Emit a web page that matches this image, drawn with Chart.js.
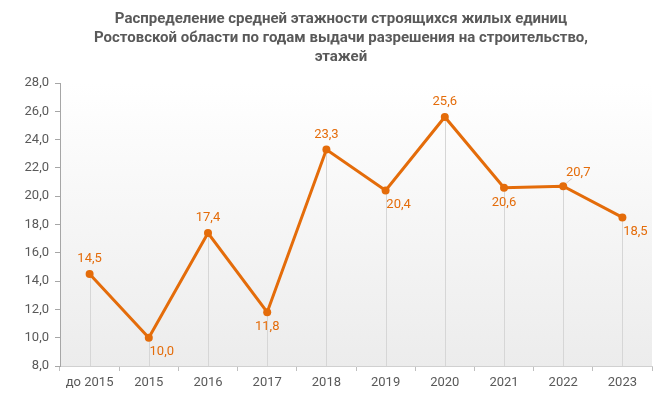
<!DOCTYPE html>
<html>
<head>
<meta charset="utf-8">
<script src="https://cdn.jsdelivr.net/npm/chart.js@4/dist/chart.umd.min.js"></script>
<style>
  html, body { margin: 0; padding: 0; background: #fff; }
  #wrap { width: 656px; height: 397px; }
</style>
</head>
<body>
<div id="wrap"><canvas id="myChart"></canvas></div>
<script>
// categories and values
var years = ['до 2015', '2015', '2016', '2017', '2018', '2019', '2020', '2021', '2022', '2023'];
var floors = [14.5, 10.0, 17.4, 11.8, 23.3, 20.4, 25.6, 20.6, 20.7, 18.5];
var titleLines = [
    'Распределение средней этажности строящихся жилых единиц',
    'Ростовской области по годам выдачи разрешения на строительство,',
    'этажей'
];
var yMin = 8, yMax = 28, yStep = 2;

var orange = '#e46c0a';
var grey = '#595959';

// where each value label sits relative to its point
var labelPos = ['top', 'right', 'top', 'bottom', 'top', 'right', 'top', 'bottom', 'topright', 'right'];

function fmt(v) {
    return v.toFixed(1).replace('.', ',');
}

// gradient background of the plot area
var bgPlugin = {
    id: 'bg',
    beforeDraw: function(chart) {
        var a = chart.chartArea, c = chart.ctx;
        var g = c.createLinearGradient(0, a.top, 0, a.bottom);
        g.addColorStop(0, '#ffffff');
        g.addColorStop(1, '#ececec');
        c.save();
        c.fillStyle = g;
        c.fillRect(a.left, a.top, a.right - a.left, a.bottom - a.top);
        c.restore();
    }
};

// title (the original is centred a little right of the canvas middle)
var titlePlugin = {
    id: 'ttl',
    afterDraw: function(chart) {
        var c = chart.ctx;
        c.save();
        c.font = 'bold 15px Roboto, "Liberation Sans", sans-serif';
        c.fillStyle = grey;
        c.textAlign = 'center';
        c.textBaseline = 'middle';
        titleLines.forEach(function(t, i) {
            c.fillText(t, 341, 19 + i * 19);
        });
        c.restore();
    }
};

// vertical drop lines from points to the x axis
var dropPlugin = {
    id: 'drop',
    beforeDatasetsDraw: function(chart) {
        var c = chart.ctx, bottom = chart.chartArea.bottom;
        var pts = chart.getDatasetMeta(0).data;
        c.save();
        c.strokeStyle = '#d6d6d6';
        c.lineWidth = 1;
        pts.forEach(function(p) {
            var x = Math.round(p.x) + 0.5;
            c.beginPath();
            c.moveTo(x, p.y);
            c.lineTo(x, bottom);
            c.stroke();
        });
        c.restore();
    }
};

// value labels
var labelPlugin = {
    id: 'vlabels',
    afterDatasetsDraw: function(chart) {
        var c = chart.ctx;
        var pts = chart.getDatasetMeta(0).data;
        c.save();
        c.font = '13px Roboto, "Liberation Sans", sans-serif';
        c.fillStyle = orange;
        c.textBaseline = 'middle';
        c.textAlign = 'center';
        pts.forEach(function(p, i) {
            var t = fmt(floors[i]);
            var pos = labelPos[i];
            var x = p.x, y = p.y;
            if (pos === 'top') { y -= 15; }
            else if (pos === 'bottom') { y += 15; }
            else if (pos === 'right') { x += 13; y += 14; }
            else if (pos === 'topright') {
                c.strokeStyle = '#d0d0d0';
                c.lineWidth = 1;
                c.beginPath();
                c.moveTo(p.x + 3, p.y - 3);
                c.lineTo(p.x + 9, p.y - 8);
                c.stroke();
                x += 15; y -= 14;
            }
            c.fillText(t, x, y);
        });
        c.restore();
    }
};

var ctx = document.getElementById('myChart').getContext('2d');
var myChart = new Chart(ctx, {
    type: 'line',
    data: {
        labels: years,
        datasets: [{
            data: floors,
            borderColor: orange,
            backgroundColor: orange,
            borderWidth: 3,
            pointRadius: 4,
            pointBackgroundColor: orange,
            pointBorderWidth: 0,
            tension: 0,
            fill: false
        }]
    },
    options: {
        responsive: true,
        maintainAspectRatio: false,
        animation: false,
        layout: { padding: { left: 0, right: 1, top: 83, bottom: 0 } },
        plugins: {
            legend: { display: false },
            tooltip: { enabled: false },
            title: { display: false }
        },
        scales: {
            x: {
                offset: true,
                grid: { display: true, drawOnChartArea: false, drawTicks: true, tickLength: 5, offset: true, color: '#bfbfbf' },
                border: { display: true, color: '#d0d0d0', width: 1 },
                ticks: { color: grey, font: { family: 'Roboto, sans-serif', size: 13 }, padding: 4, maxRotation: 0 },
                afterFit: function(s) { s.height = 31; }
            },
            y: {
                min: yMin,
                max: yMax,
                grid: { display: true, drawOnChartArea: false, drawTicks: true, tickLength: 5, color: '#a6a6a6' },
                border: { display: true, color: '#a6a6a6', width: 1 },
                ticks: {
                    stepSize: yStep,
                    color: grey,
                    font: { family: 'Roboto, sans-serif', size: 13 },
                    padding: 6,
                    callback: function(v) { return fmt(v); }
                },
                afterFit: function(s) { s.width = 60; }
            }
        }
    },
    plugins: [bgPlugin, dropPlugin, labelPlugin, titlePlugin]
});
</script>
</body>
</html>
